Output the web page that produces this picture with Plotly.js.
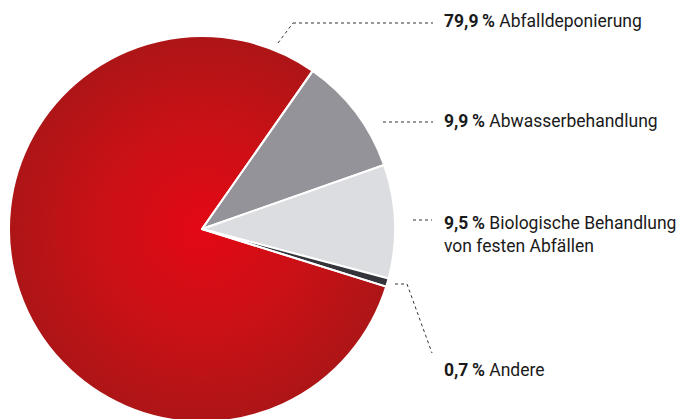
<!DOCTYPE html>
<html>
<head>
<meta charset="utf-8">
<script src="https://cdn.plot.ly/plotly-3.0.1.min.js"></script>
<style>
html,body{margin:0;padding:0;overflow:hidden;background:#fff;}
#chart{width:678px;height:422px;}
</style>
</head>
<body>
<div id="chart"></div>
<script>
// ---- data ----
const categories = ["Abwasserbehandlung", "Biologische Behandlung von festen Abfällen", "Andere", "Abfalldeponierung"];
const labelLines = ["Abwasserbehandlung", "Biologische Behandlung<br>von festen Abfällen", "Andere", "Abfalldeponierung"];
const shares = [9.9, 9.5, 0.7, 79.9];
const sliceColors = ["#939399", "#dcdde0", "#34353b", "rgba(0,0,0,0)"];

// ---- layout geometry ----
const W = 678, H = 422;
const cx = 202, cy = 229, R = 193;
const px = x => x / W;
const py = y => (H - y) / H;

const fmt = v => v.toFixed(1).replace('.', ',') + '\u2009%';

// label anchor positions (pixel, from top) for each category
const labelY = [21, 121.5, 234, 370];
const labelYOrder = [1, 2, 3, 0];
const labelX = 442;

const FONT = 'Roboto, "Liberation Sans Narrow", sans-serif';

const annotations = categories.map((c, i) => ({
  xref: 'paper', yref: 'paper',
  x: px(labelX), y: py(labelY[labelYOrder[i]]),
  xanchor: 'left', yanchor: 'middle', align: 'left',
  showarrow: false,
  text: '<b>' + fmt(shares[i]) + '</b> ' + labelLines[i],
  font: {family: FONT, size: 17.5, color: '#1a1a1a'}
}));

// dotted leader lines (pixel paths)
const leaders = [
  [[383,122],[433,122]],
  [[413,220],[432,220]],
  [[395,284],[407,284],[432,353]],
  [[278,43],[293,23],[433,23]]
];
const shapes = [];
leaders.forEach(path => {
  for (let k = 0; k < path.length - 1; k++) {
    shapes.push({
      type: 'line', xref: 'paper', yref: 'paper',
      x0: px(path[k][0]), y0: py(path[k][1]),
      x1: px(path[k+1][0]), y1: py(path[k+1][1]),
      line: {color: '#333', width: 1, dash: 'dot'}
    });
  }
});

// radial gradient disc under the transparent red slice
const svg = "<svg xmlns='http://www.w3.org/2000/svg' width='200' height='200'>" +
  "<defs><radialGradient id='g' cx='50%' cy='50%' r='50%'>" +
  "<stop offset='0' stop-color='#e30814'/><stop offset='0.55' stop-color='#c91116'/><stop offset='1' stop-color='#ad1517'/>" +
  "</radialGradient></defs><circle cx='100' cy='100' r='100' fill='url(#g)'/></svg>";
const img = 'data:image/svg+xml;charset=utf-8,' + encodeURIComponent(svg);

const trace = {
  type: 'pie',
  values: shares,
  labels: categories,
  sort: false,
  direction: 'clockwise',
  rotation: 35,
  textinfo: 'none',
  hoverinfo: 'label+percent',
  marker: {colors: sliceColors, line: {color: '#ffffff', width: 2}},
  domain: {x: [px(cx - R), px(cx + R)], y: [0, py(cy - R)]},
  showlegend: false
};

const layout = {
  width: W, height: H,
  margin: {l: 0, r: 0, t: 0, b: 0},
  paper_bgcolor: '#ffffff',
  showlegend: false,
  annotations: annotations,
  shapes: shapes,
  images: [{
    source: img, xref: 'paper', yref: 'paper',
    x: px(cx - R), y: py(cy - R), sizex: (2*R)/W, sizey: (2*R)/H,
    xanchor: 'left', yanchor: 'top', sizing: 'stretch', layer: 'below'
  }]
};

Plotly.newPlot('chart', [trace], layout, {displayModeBar: false, staticPlot: true});
</script>
</body>
</html>
